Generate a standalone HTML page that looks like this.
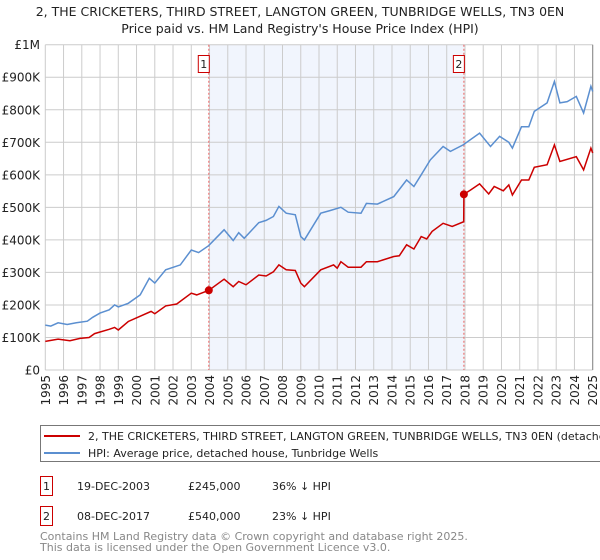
<!DOCTYPE html>
<html><head><meta charset="utf-8"><style>
body{margin:0;background:#fff;width:600px;height:560px;overflow:hidden;font-family:"Liberation Sans","DejaVu Sans",sans-serif}
svg{display:block}
</style></head><body>
<svg id="chart" width="600" height="560" xmlns="http://www.w3.org/2000/svg" font-family="DejaVu Sans, Liberation Sans, sans-serif">
<text x="300" y="16" text-anchor="middle" font-size="12.5" fill="#222">2, THE CRICKETERS, THIRD STREET, LANGTON GREEN, TUNBRIDGE WELLS, TN3 0EN</text>
<text x="300" y="33" text-anchor="middle" font-size="12.5" fill="#222">Price paid vs. HM Land Registry's House Price Index (HPI)</text>
<g id="grid"></g><g id="marks"></g><g id="axes"></g>
<rect x="40.5" y="425.5" width="570" height="36" fill="#fff" stroke="#777"/>
<line x1="44" y1="436" x2="80" y2="436" stroke="#cc0000" stroke-width="2"/>
<text x="88" y="440" font-size="11" fill="#222">2, THE CRICKETERS, THIRD STREET, LANGTON GREEN, TUNBRIDGE WELLS, TN3 0EN (detached house)</text>
<line x1="44" y1="453" x2="80" y2="453" stroke="#5b8fd0" stroke-width="2"/>
<text x="88" y="457" font-size="11" fill="#222">HPI: Average price, detached house, Tunbridge Wells</text>
<g font-size="11" fill="#222">
<rect x="40.5" y="476.5" width="12" height="19" fill="#fff" stroke="#cc0000"/><text x="46.5" y="490" text-anchor="middle">1</text>
<text x="77" y="490">19-DEC-2003</text><text x="188" y="490">£245,000</text><text x="272" y="490">36% ↓ HPI</text></g>
<g font-size="11" fill="#222">
<rect x="40.5" y="506.5" width="12" height="19" fill="#fff" stroke="#cc0000"/><text x="46.5" y="520" text-anchor="middle">2</text>
<text x="77" y="520">08-DEC-2017</text><text x="188" y="520">£540,000</text><text x="272" y="520">23% ↓ HPI</text></g>
<text x="40" y="540" font-size="11" fill="#888">Contains HM Land Registry data © Crown copyright and database right 2025.</text>
<text x="40" y="551" font-size="11" fill="#888">This data is licensed under the Open Government Licence v3.0.</text>
</svg>
<script>
const yTicks=[0,100,200,300,400,500,600,700,800,900,1000];
const yTickLabels=["£0","£100K","£200K","£300K","£400K","£500K","£600K","£700K","£800K","£900K","£1M"];
const xYears=[1995,1996,1997,1998,1999,2000,2001,2002,2003,2004,2005,2006,2007,2008,2009,2010,2011,2012,2013,2014,2015,2016,2017,2018,2019,2020,2021,2022,2023,2024,2025];
const saleDates=[2003.96,2017.94];
const saleValues=[245,540];
const saleLabels=["1","2"];
const hpiYears=[1995,1995.3,1995.7,1996.2,1996.7,1997.3,1997.6,1998,1998.5,1998.8,1999,1999.55,2000.2,2000.7,2001,2001.6,2002.4,2003,2003.4,2003.95,2004.8,2005.3,2005.6,2005.9,2006.7,2007.1,2007.5,2007.8,2008.2,2008.7,2009,2009.2,2010.1,2010.6,2011.2,2011.6,2012.3,2012.6,2013.2,2014.1,2014.8,2015.2,2015.6,2016.1,2016.8,2017.2,2017.9,2018.8,2019.4,2019.9,2020.4,2020.6,2021.1,2021.5,2021.8,2022.5,2022.9,2023.2,2023.6,2024.1,2024.5,2024.9,2025];
const hpiValues=[138,135,145,140,145,150,162,175,185,200,194,205,231,282,267,308,323,369,361,382,431,398,422,405,453,460,472,503,482,477,410,400,482,490,500,485,482,512,510,533,584,564,600,646,687,672,692,728,687,718,700,682,748,748,795,821,887,821,825,841,790,872,856];
const propYears=[1995,1995.7,1996.35,1996.9,1997.4,1997.7,1998.5,1998.8,1999,1999.55,2000.8,2001,2001.6,2002.2,2003,2003.3,2003.96,2004.8,2005.3,2005.6,2006,2006.7,2007.1,2007.5,2007.8,2008.2,2008.7,2009,2009.2,2010.1,2010.8,2011,2011.2,2011.6,2012.3,2012.6,2013.2,2014.1,2014.4,2014.8,2015.2,2015.6,2015.9,2016.2,2016.8,2017.3,2017.93,2017.94,2018.3,2018.8,2019.3,2019.6,2020.1,2020.4,2020.6,2021.1,2021.5,2021.8,2022.5,2022.9,2023.2,2024.1,2024.5,2024.9,2025];
const propValues=[88,95,90,97,100,112,125,131,123,149,180,173,197,203,236,231,245,279,256,272,262,292,289,302,323,308,306,267,256,308,323,313,333,316,316,333,333,349,351,385,372,410,403,426,451,441,456,540,553,572,541,564,551,569,538,584,584,623,631,692,641,656,615,682,667];
const L=45.3,R=592.7,T=44.7,B=370;
const xs=y=>L+(y-1995)/30*(R-L);
const ys=v=>B-v/1000*(B-T);
const NS="http://www.w3.org/2000/svg";
function mk(tag,attrs,parent){const e=document.createElementNS(NS,tag);for(const k in attrs)e.setAttribute(k,attrs[k]);parent.appendChild(e);return e;}
const grid=document.getElementById('grid'),marks=document.getElementById('marks'),axes=document.getElementById('axes');
const shade=mk('rect',{x:xs(saleDates[0]),y:T,width:xs(saleDates[1])-xs(saleDates[0]),height:B-T,fill:'#eef3fd',opacity:0.8},grid);


yTicks.forEach((v,i)=>{
  const g=mk('line',{x1:L,x2:R,y1:ys(v),y2:ys(v),stroke:'#ccc','stroke-width':1},grid);
  
  
  const t=mk('text',{x:40,y:ys(v)+4.5,'text-anchor':'end','font-size':12,fill:'#222'},axes);
  t.textContent=yTickLabels[i];
  
  
});
xYears.forEach(y=>{
  const g=mk('line',{x1:xs(y),x2:xs(y),y1:T,y2:B,stroke:'#ccc','stroke-width':1},grid);
  
  
  const t=mk('text',{x:0,y:0,'text-anchor':'end','font-size':12,fill:'#222',transform:`translate(${xs(y)+4.5},${B+5}) rotate(-90)`},axes);
  t.textContent=y;
  
  
});
const rEdge=mk('line',{x1:R,x2:R,y1:T,y2:B,stroke:'#888','stroke-width':1},grid);


saleDates.forEach((d,i)=>{
  const l=mk('line',{x1:xs(d),x2:xs(d),y1:T,y2:B,stroke:'#ee6666','stroke-width':1,'stroke-dasharray':'2,2'},marks);
  
  
});
const hp=mk('path',{d:hpiYears.map((y,i)=>(i?'L':'M')+xs(y).toFixed(1)+','+ys(hpiValues[i]).toFixed(1)).join(''),fill:'none',stroke:'#5b8fd0','stroke-width':1.5},marks);


const pp=mk('path',{d:propYears.map((y,i)=>(i?'L':'M')+xs(y).toFixed(1)+','+ys(propValues[i]).toFixed(1)).join(''),fill:'none',stroke:'#cc0000','stroke-width':1.5},marks);


saleDates.forEach((d,i)=>{
  const c=mk('circle',{cx:xs(d),cy:ys(saleValues[i]),r:4,fill:'#cc0000'},marks);
  
  
  const bx=xs(d)-11;
  const r=mk('rect',{x:bx+0.5,y:55.5,width:11,height:17,fill:'#fff',stroke:'#cc0000'},marks);
  
  
  const t=mk('text',{x:bx+6,y:68,'text-anchor':'middle','font-size':11,fill:'#222'},marks);
  t.textContent=saleLabels[i];
  
  
});
</script>
</body></html>
